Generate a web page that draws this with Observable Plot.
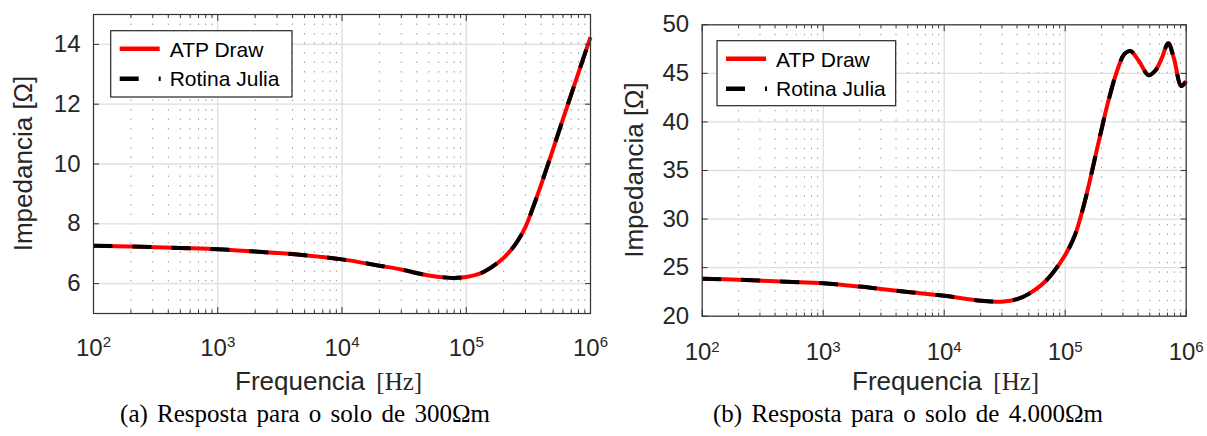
<!DOCTYPE html>
<html><head><meta charset="utf-8">
<script src="https://cdn.jsdelivr.net/npm/d3@7"></script>
<script src="https://cdn.jsdelivr.net/npm/@observablehq/plot@0.6"></script>
<style>
html,body{margin:0;padding:0;background:#fff;}
#wrap{position:relative;width:1207px;height:436px;overflow:hidden;background:#fff;}
.panel{position:absolute;top:0;}
.cap{position:absolute;top:401px;font-family:"Liberation Serif",serif;font-size:25px;line-height:26px;color:#000;white-space:nowrap;transform:translateX(-50%);word-spacing:3px;}
</style></head><body>
<div id="wrap">
  <div class="panel" id="pa" style="left:0"></div>
  <div class="panel" id="pb" style="left:600px"></div>
  <div class="cap" style="left:305px">(a) Resposta para o solo de 300Ωm</div>
  <div class="cap" style="left:908px">(b) Resposta para o solo de 4.000Ωm</div>
</div>
<script>
// ---- data ----
const seriesNames = ["ATP Draw", "Rotina Julia"];
const xTickValues = [1e2, 1e3, 1e4, 1e5, 1e6];
const xTickLabels = ["10^2", "10^3", "10^4", "10^5", "10^6"];
const yTicksA = [6, 8, 10, 12, 14];
const yTicksB = [20, 25, 30, 35, 40, 45, 50];

// (a) solo 300 Ohm.m
const freqA = [100, 200, 500, 1000, 2000, 5000, 1e4, 2e4, 3e4, 5e4, 7e4, 8e4, 1e5, 1.3e5, 1.6e5, 2e5, 2.5e5, 3e5, 3.47e5, 4e5, 5e5, 6e5, 7e5, 8e5, 1e6];
const impA  = [7.27, 7.24, 7.19, 7.15, 7.07, 6.95, 6.81, 6.60, 6.47, 6.27, 6.20, 6.19, 6.22, 6.34, 6.55, 6.86, 7.33, 7.90, 8.58, 9.30, 10.50, 11.50, 12.33, 13.05, 14.24];

// (b) solo 4.000 Ohm.m
const freqB = [100, 200, 500, 1000, 2000, 3000, 5000, 1e4, 2e4, 3e4, 4e4, 5e4, 7e4, 1e5, 1.2e5, 1.34e5, 1.5e5, 1.67e5, 1.96e5, 2.29e5, 2.69e5, 3.09e5, 3.46e5, 4.05e5, 4.9e5, 5.57e5, 6.3e5, 7.1e5, 7.9e5, 9.1e5, 1e6];
const impB  = [23.85, 23.75, 23.55, 23.40, 23.05, 22.80, 22.50, 22.10, 21.60, 21.50, 21.75, 22.30, 23.70, 26.30, 28.30, 30.20, 32.50, 35.00, 38.80, 42.30, 45.30, 47.00, 47.30, 46.30, 44.80, 45.30, 46.60, 48.10, 46.60, 43.70, 44.20];

const minorX = [];
for (let i = 0; i < xTickValues.length - 1; i++) for (let k = 2; k <= 9; k++) minorX.push(k * xTickValues[i]);

const labelOf = d => xTickLabels[xTickValues.indexOf(d)];
const SANS = "'Liberation Sans', Arial, sans-serif";

function panel(el, cfg) {
  const rows = cfg.freq.map((f, i) => ({f, z: cfg.imp[i]}));
  const svg = Plot.plot({
    width: cfg.width, height: 400,
    marginLeft: cfg.ml, marginRight: cfg.mr, marginTop: cfg.mt, marginBottom: cfg.mb,
    x: {type: "log", domain: [1e2, 1e6]},
    y: {domain: cfg.ydom},
    style: {fontFamily: SANS, fontSize: "24px", color: "#262626", background: "transparent", overflow: "visible"},
    marks: [
      Plot.ruleX(minorX, {stroke: "#9a9a9a", strokeWidth: 1, strokeDasharray: "1.5,8"}),
      Plot.ruleX(xTickValues, {stroke: "#dedede", strokeWidth: 1.3}),
      Plot.ruleY(cfg.yticks, {stroke: "#dedede", strokeWidth: 1.3}),
      Plot.line(rows, {x: "f", y: "z", stroke: "#ff0000", strokeWidth: 4, strokeLinecap: "butt", curve: "catmull-rom"}),
      Plot.line(rows, {x: "f", y: "z", stroke: "#000", strokeWidth: 4, strokeLinecap: "butt", strokeDasharray: "19,20", curve: "catmull-rom"}),
      Plot.frame({stroke: "#333", strokeWidth: 1.2}),
      Plot.axisX(xTickValues, {anchor: "bottom", tickSize: -6, fill: "none", stroke: "#333", label: null}),
      Plot.axisX(xTickValues, {anchor: "top", tickSize: -6, fill: "none", stroke: "#333", label: null}),
      Plot.axisX(minorX, {anchor: "bottom", tickSize: -3, fill: "none", stroke: "#333", label: null}),
      Plot.axisX(minorX, {anchor: "top", tickSize: -3, fill: "none", stroke: "#333", label: null}),
      Plot.axisY(cfg.yticks, {anchor: "left", tickSize: -6, fill: "none", stroke: "#333", label: null}),
      Plot.axisY(cfg.yticks, {anchor: "right", tickSize: -6, fill: "none", stroke: "#333", label: null}),
      Plot.axisX(xTickValues, {anchor: "bottom", tickSize: 0, tickPadding: cfg.xpad, tickFormat: labelOf, fontSize: 24, label: null}),
      Plot.axisY(cfg.yticks, {anchor: "left", tickSize: 0, tickPadding: 13, fontSize: 24, label: null})
    ]
  });
  const s = d3.select(svg);
  // superscript exponents
  s.selectAll('g[aria-label="x-axis tick label"] text').each(function () {
    const parts = this.textContent.split("^");
    const t = d3.select(this);
    t.text(parts[0]);
    t.append("tspan").attr("dy", "-0.55em").attr("font-size", "15px").text(parts[1]);
  });
  // axis titles
  const xl = s.append("text").attr("x", cfg.xlx).attr("y", 390).attr("fill", "#262626")
    .attr("text-anchor", "start").attr("font-size", 26).attr("font-family", SANS).text("Frequencia ");
  xl.append("tspan").attr("dx", 4).attr("font-family", "'Liberation Serif', serif").attr("font-size", 25).text("[Hz]");
  s.append("text").attr("transform", `translate(${cfg.ylx},${cfg.yly}) rotate(-90)`)
    .attr("text-anchor", "middle").attr("dominant-baseline", "central").attr("fill", "#262626")
    .attr("font-size", 26).attr("font-family", SANS).text("Impedancia [Ω]");
  // legend
  const L = cfg.leg;
  const g = s.append("g").attr("font-family", SANS).attr("font-size", 21).attr("text-anchor", "start");
  g.append("rect").attr("x", L.x).attr("y", L.y).attr("width", L.w).attr("height", L.h)
    .attr("fill", "white").attr("stroke", "#262626").attr("stroke-width", 1.2);
  g.append("line").attr("x1", L.x + 9).attr("x2", L.x + 49).attr("y1", L.y + 18).attr("y2", L.y + 18)
    .attr("stroke", "#ff0000").attr("stroke-width", 4.5);
  g.append("text").attr("x", L.x + 59).attr("y", L.y + 26.5).attr("fill", "#000").text(seriesNames[0]);
  g.append("line").attr("x1", L.x + 9).attr("x2", L.x + 50).attr("y1", L.y + 48).attr("y2", L.y + 48)
    .attr("stroke", "#000").attr("stroke-width", 4.5).attr("stroke-dasharray", "19,20");
  g.append("text").attr("x", L.x + 59).attr("y", L.y + 55.5).attr("fill", "#000").text(seriesNames[1]);
  el.appendChild(svg);
}

panel(document.getElementById("pa"), {
  width: 600, ml: 93, mr: 10, mt: 14, mb: 87, ydom: [5, 15], yticks: yTicksA,
  freq: freqA, imp: impA, xpad: 25, xlx: 235, ylx: 23, yly: 163.5,
  leg: {x: 110.7, y: 30.7, w: 181.3, h: 66.3}
});
panel(document.getElementById("pb"), {
  width: 607, ml: 101.7, mr: 21.3, mt: 24.3, mb: 84.3, ydom: [20, 50], yticks: yTicksB,
  freq: freqB, imp: impB, xpad: 27, xlx: 252, ylx: 34, yly: 170,
  leg: {x: 117, y: 40.7, w: 178.7, h: 65}
});
</script>
</body></html>
